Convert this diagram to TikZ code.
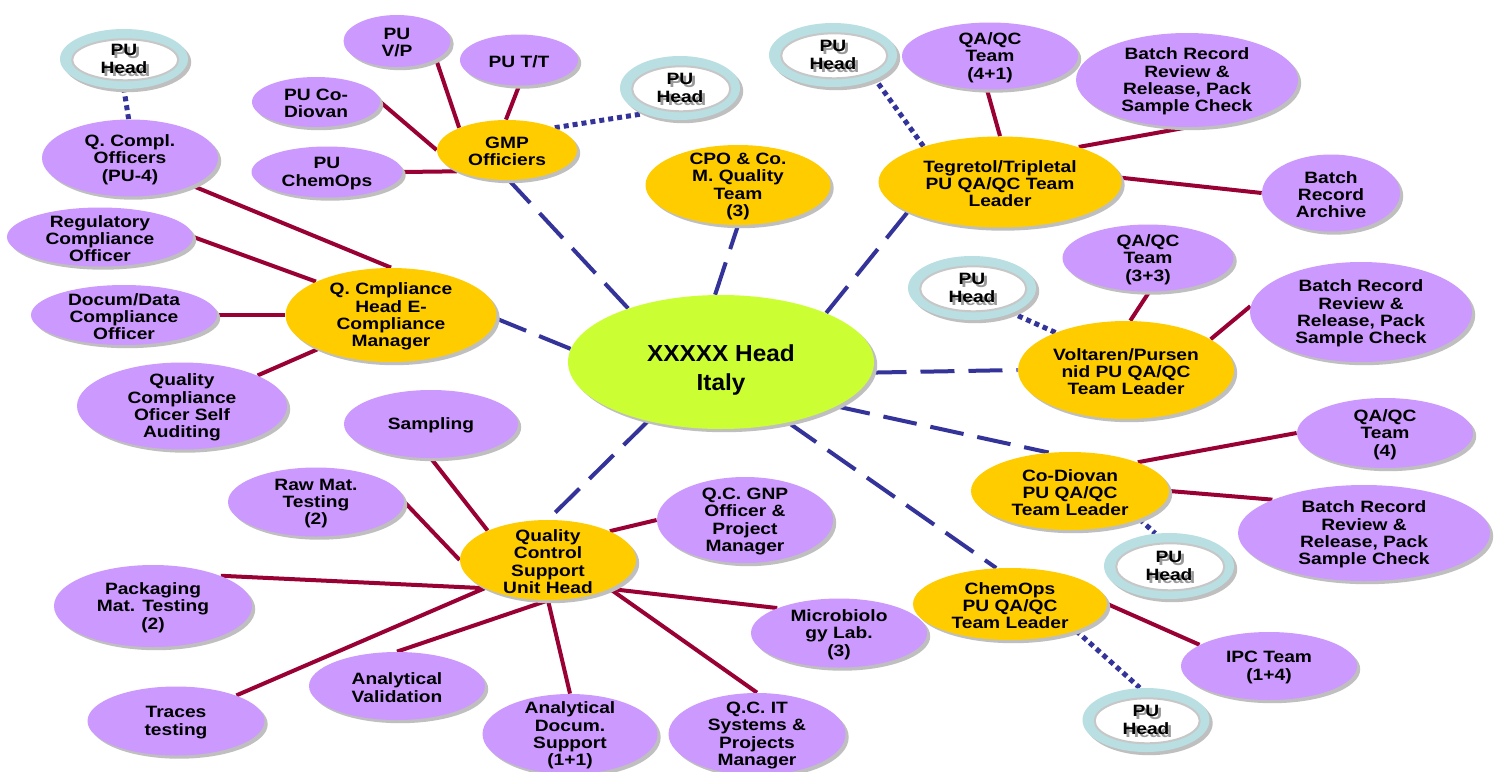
\documentclass[tikz,border=0pt]{standalone}
\usepackage{fontspec}
\newfontfamily\lblfam{Liberation Sans}[FakeStretch=1.17]
\newfontfamily\cenfam{Liberation Sans}[FakeStretch=1.05]
\usetikzlibrary{shapes.geometric,shadows,backgrounds}
\definecolor{pfill}{HTML}{CC99FF}
\definecolor{ofill}{HTML}{FFCC00}
\definecolor{cfill}{HTML}{CCFF33}
\definecolor{redc}{HTML}{990033}
\definecolor{bluec}{HTML}{333399}
\definecolor{ringc}{HTML}{B9DFE2}
\tikzset{
  base/.style={ellipse, inner sep=0pt, drop shadow={shadow xshift=1.6pt, shadow yshift=-1.6pt, fill=black!25, opacity=1}},
  pnode/.style={base, fill=pfill},
  onode/.style={base, fill=ofill},
  cnode/.style={base, fill=cfill},
  ring/.style={base, fill=ringc},
  ringin/.style={ellipse, inner sep=0pt, fill=white, draw=black!22, line width=1pt},
  lbl/.style={font=\lblfam\bfseries\fontsize{8.2}{8.7}\selectfont, align=center, inner sep=0pt, text=black},
  clbl/.style={font=\cenfam\bfseries\fontsize{11.6}{14.5}\selectfont, align=center, inner sep=0pt, text=black},
  hub/.style={draw=bluec, line width=2pt, dash pattern=on 17pt off 7pt},
  link/.style={draw=redc, line width=2pt},
  dotl/.style={draw=bluec, line width=2.5pt, dash pattern=on 2.5pt off 2pt},
}
\newcommand\mkell[6]{\node[#1, minimum width=#4*0.5pt, minimum height=#5*0.5pt, label={[lbl, yshift=-0.8pt]center:{#6}}] (#2) at (#3) {};}
\newcommand\mkring[4]{%
  \node[ring, minimum width=#3*0.5pt, minimum height=#4*0.5pt] (#1) at (#2) {};
  \node[ringin, minimum width=(#3-22)*0.5pt, minimum height=(#4-19)*0.5pt, xshift=0.6pt, yshift=-0.4pt] (#1in) at (#1.center) {};
  \node[lbl, text=black!40, xshift=1.4pt, yshift=-1.4pt] (#1ts) at (#1.center) {PU\\Head};
  \node[lbl] (#1t) at (#1.center) {PU\\Head};}
\begin{document}
\begin{tikzpicture}[x=0.5pt,y=-0.5pt]
\useasboundingbox (0,0) rectangle (1498,771);
% centre
\node[cnode, minimum width=306*0.5pt, minimum height=134*0.5pt, label={[clbl, yshift=-4pt]center:{XXXXX Head\\Italy}}] (ctr) at (721,362) {};
% hubs
\mkell{onode}{gmp}{507,150}{140}{60}{GMP\\Officiers}
\mkell{onode}{cpo}{738,185}{185}{80}{CPO \& Co.\\M. Quality\\Team\\(3)}
\mkell{onode}{teg}{1000,182}{243}{91}{Tegretol/Tripletal\\PU QA/QC Team\\Leader}
\mkell{onode}{qcm}{391,315}{211}{94}{Q. Cmpliance\\Head E-\\Compliance\\Manager}
\mkell{onode}{vol}{1126,370}{216}{98}{Voltaren/Pursen\\nid PU QA/QC\\Team Leader}
\mkell{onode}{cod}{1070,491}{198}{78}{Co-Diovan\\PU QA/QC\\Team Leader}
\mkell{onode}{qcs}{548,560}{176}{80}{Quality\\Control\\Support\\Unit Head}
\mkell{onode}{chem}{1010,604}{194}{72}{ChemOps\\PU QA/QC\\Team Leader}
% leaves
\mkell{pnode}{pvp}{397,41}{107}{52}{PU\\V/P}
\mkell{pnode}{ptt}{519,60}{118}{51}{PU T/T}
\mkell{pnode}{pcod}{316,102}{128}{50}{PU Co-\\Diovan}
\mkell{pnode}{pchem}{327,172}{151}{51}{PU\\ChemOps}
\mkell{pnode}{qco}{130,158}{176}{77}{Q. Compl.\\Officers\\(PU-4)}
\mkell{pnode}{reg}{100,237}{186}{59}{Regulatory\\Compliance\\Officer}
\mkell{pnode}{doc}{124,315}{186}{60}{Docum/Data\\Compliance\\Officer}
\mkell{pnode}{qca}{182,406}{210}{87}{Quality\\Compliance\\Oficer Self\\Auditing}
\mkell{pnode}{samp}{431,424}{174}{68}{Sampling}
\mkell{pnode}{raw}{316,502}{176}{69}{Raw Mat.\\Testing\\(2)}
\mkell{pnode}{pack}{153,606}{198}{82}{Packaging\\Mat. Testing\\(2)}
\mkell{pnode}{trace}{176,721}{177}{69}{Traces\\testing}
\mkell{pnode}{aval}{397,686}{176}{68}{Analytical\\Validation}
\mkell{pnode}{adoc}{570,734}{175}{80}{Analytical\\Docum.\\Support\\(1+1)}
\mkell{pnode}{qcit}{757,734}{177}{82}{Q.C. IT\\Systems \&\\Projects\\Manager}
\mkell{pnode}{gnp}{745,520}{176}{86}{Q.C. GNP\\Officer \&\\Project\\Manager}
\mkell{pnode}{micro}{839,633}{176}{69}{Microbiolo\\gy Lab.\\(3)}
\mkell{pnode}{qa41}{990,56}{176}{67}{QA/QC\\Team\\(4+1)}
\mkell{pnode}{bat1}{1187,80}{222}{94}{Batch Record\\Review \&\\Release, Pack\\Sample Check}
\mkell{pnode}{arch}{1331,193}{138}{77}{Batch\\Record\\Archive}
\mkell{pnode}{qa33}{1148,258}{171}{67}{QA/QC\\Team\\(3+3)}
\mkell{pnode}{bat2}{1361,312}{222}{100}{Batch Record\\Review \&\\Release, Pack\\Sample Check}
\mkell{pnode}{qa4}{1385,433}{176}{70}{QA/QC\\Team\\(4)}
\mkell{pnode}{bat3}{1364,533}{252}{96}{Batch Record\\Review \&\\Release, Pack\\Sample Check}
\mkell{pnode}{ipc}{1269,666}{176}{68}{IPC Team\\(1+4)}
% PU Head rings
\mkring{ra}{124,59}{128}{60}
\mkring{rb}{680,88}{120}{64}
\mkring{rc}{833,55}{128}{64}
\mkring{rd}{972,288}{128}{64}
\mkring{re}{1169,566}{130}{66}
\mkring{rf}{1146,720}{127}{64}
% connectors
\begin{scope}[on background layer]
\fill[white] (0,0) rectangle (1498,771);
\draw[hub] (ctr.150) -- (gmp.274);
\draw[hub] (ctr.95) -- (cpo.270);
\draw[hub] (ctr.25) -- (teg.198);
\draw[hub] (ctr.175) -- (qcm.358);
\draw[hub] (ctr.356) -- (vol.180);
\draw[hub] (ctr.339) -- (cod.119);
\draw[hub] (ctr.318) -- (chem.111);
\draw[hub] (ctr.219) -- (qcs.90);
\draw[link] (gmp.155) -- (pvp.335);
\draw[link] (gmp.92) -- (ptt.270);
\draw[link] (gmp.180) -- (pcod.0);
\draw[link] (gmp.203) -- (pchem.0);
\draw[dotl] (gmp.25) -- (rb.215);
\draw[link] (qcm.90) -- (qco.336);
\draw[link] (qcm.156) -- (reg.0);
\draw[link] (qcm.180) -- (doc.0);
\draw[link] (qcm.205) -- (qca.22);
\draw[dotl] (qco.92) -- (ra.270);
\draw[link] (teg.90) -- (qa41.265);
\draw[link] (teg.24) -- (bat1.270);
\draw[link] (teg.2) -- (arch.180);
\draw[dotl] (teg.155) -- (rc.330);
\draw[link] (vol.85) -- (qa33.272);
\draw[link] (vol.20) -- (bat2.177);
\draw[dotl] (vol.152) -- (rd.328);
\draw[link] (cod.23) -- (qa4.180);
\draw[link] (cod.0) -- (bat3.160);
\draw[dotl] (cod.338) -- (re.113);
\draw[link] (chem.0) -- (ipc.163);
\draw[dotl] (chem.338) -- (rf.101);
\draw[link] (qcs.154) -- (samp.270);
\draw[link] (qcs.180) -- (raw.0);
\draw[link] (qcs.204) -- (pack.24);
\draw[link] (qcs.204) -- (trace.23);
\draw[link] (qcs.270) -- (aval.90);
\draw[link] (qcs.270) -- (adoc.90);
\draw[link] (qcs.25) -- (gnp.180);
\draw[link] (qcs.335) -- (micro.158);
\draw[link] (qcs.335) -- (qcit.90);
\end{scope}
\end{tikzpicture}
\end{document}
